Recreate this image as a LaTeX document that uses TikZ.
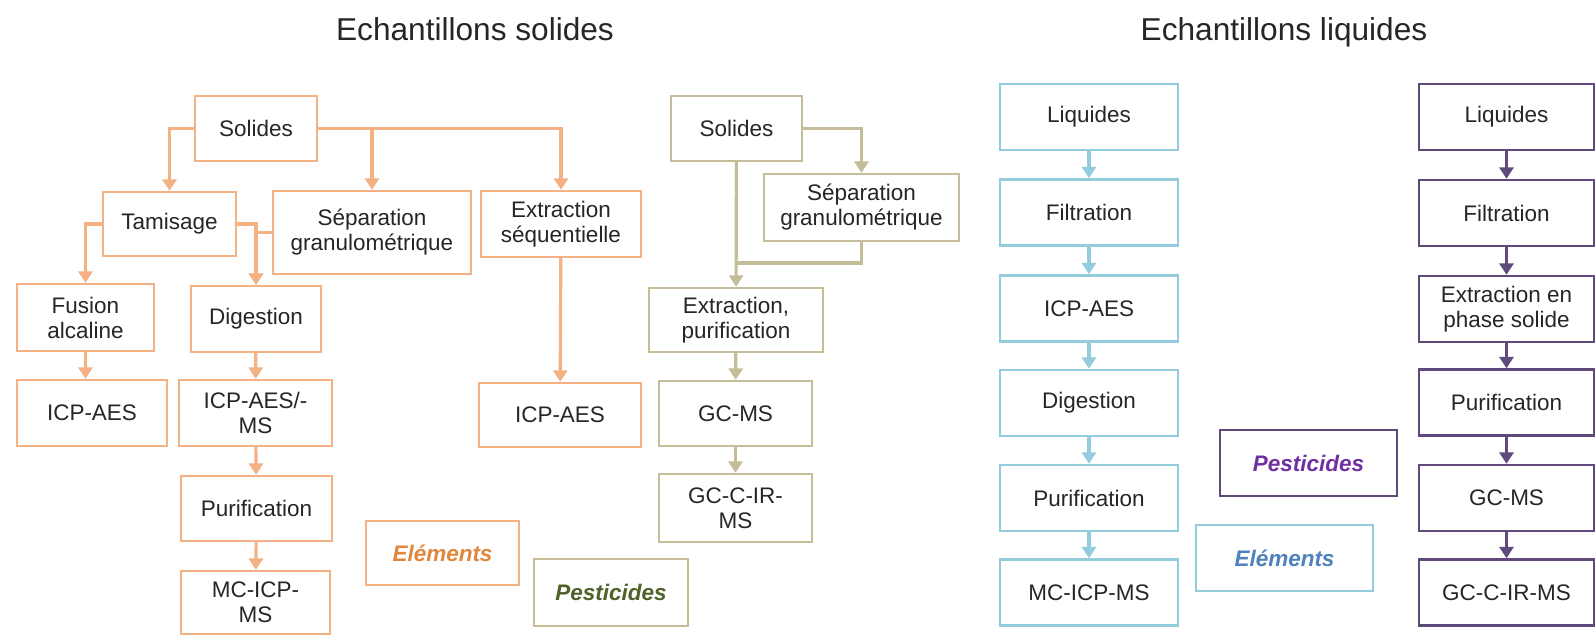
\documentclass[tikz,border=0pt]{standalone}
\usepackage{fontspec}
\setmainfont{Liberation Sans}
\usepackage{tikz}
\usetikzlibrary{arrows.meta}

\definecolor{orline}{HTML}{F4B183}
\definecolor{ortext}{HTML}{E0873C}
\definecolor{olline}{HTML}{C4BD97}
\definecolor{oltext}{HTML}{4F6228}
\definecolor{blline}{HTML}{93CDDD}
\definecolor{bltext}{HTML}{4F81BD}
\definecolor{puline}{HTML}{604A7B}
\definecolor{putext}{HTML}{7030A0}
\definecolor{boxtext}{HTML}{262626}

\begin{document}
\begin{tikzpicture}[
  x=0.02cm, y=-0.02cm,
  every node/.style={rectangle, align=center, inner sep=0pt, text=boxtext,
    font=\fontsize{12.8}{14.2}\selectfont},
  box/.style={draw, line width=1.4pt, minimum width=3.06cm, minimum height=1.32cm},
  orbox/.style={box, draw=orline},
  olbox/.style={box, draw=olline},
  blbox/.style={box, draw=blline, minimum width=3.56cm},
  pubox/.style={box, draw=puline, minimum width=3.5cm},
  tag/.style={font=\fontsize{12.8}{14.2}\selectfont\bfseries\itshape},
  arr/.style={draw, line width=1.8pt, ->, >={Triangle[width=8pt,length=6.5pt]}},
  orarr/.style={arr, orline},
  olarr/.style={arr, olline},
  blarr/.style={arr, blline},
  puarr/.style={arr, puline},
  title/.style={anchor=base, font=\fontsize{18}{20}\selectfont}
]
\fill[white] (0,0) rectangle (1596,644);
\useasboundingbox (0,0) rectangle (1596,644);

\node[title] (titS) at (475,41) {Echantillons solides};
\node[title] (titL) at (1284,41) {Echantillons liquides};

\node[orbox, minimum width=2.44cm, minimum height=1.3cm] (solA) at (256,128.5) {Solides};
\node[orbox, minimum width=2.66cm, minimum height=1.28cm] (tami) at (169.5,224) {Tamisage};
\node[orbox, minimum width=3.96cm, minimum height=1.66cm] (sepA) at (372,232.5) {Séparation\\granulométrique};
\node[orbox, minimum width=3.2cm] (extS) at (561,224) {Extraction\\séquentielle};
\node[orbox, minimum width=2.74cm, minimum height=1.34cm] (fusi) at (85.5,317.5) {Fusion\\alcaline};
\node[orbox, minimum width=2.6cm] (digA) at (256,319) {Digestion};
\node[orbox, minimum width=3.0cm] (icpA) at (92,413) {ICP-AES};
\node[orbox] (icpB) at (255.5,413) {ICP-AES/-\\MS};
\node[orbox, minimum width=3.02cm, minimum height=1.3cm] (puriA) at (256.5,508.5) {Purification};
\node[orbox, minimum width=2.98cm, minimum height=1.26cm] (mcA) at (255.5,602.5) {MC-ICP-\\MS};
\node[orbox, minimum width=3.24cm, minimum height=1.28cm] (icpC) at (560,415) {ICP-AES};
\node[orbox, minimum height=1.28cm, tag, text=ortext] (elemA) at (442.5,553) {Eléments};

\draw[orarr] (solA.west) -| (tami.north);
\draw[orarr] (solA.east) -| (sepA.north);
\draw[orarr] (solA.east) -| (extS.north);
\draw[orarr] (tami.west) -| (fusi.north);
\draw[orarr] (tami.east) -| (digA.north);
\draw[orarr] (sepA.west) -| (digA.north);
\draw[orarr] (fusi.south) -- (fusi.south |- icpA.north);
\draw[orarr] (digA) -- (icpB);
\draw[orarr] (icpB) -- (puriA);
\draw[orarr] (puriA) -- (mcA);
\draw[orarr] (extS) -- (icpC);

\node[olbox, minimum width=2.62cm, minimum height=1.3cm] (solB) at (736.5,128.5) {Solides};
\node[olbox, minimum width=3.9cm, minimum height=1.34cm] (sepB) at (861.5,207.5) {Séparation\\granulométrique};
\node[olbox, minimum width=3.48cm, minimum height=1.28cm] (extP) at (736,320) {Extraction,\\purification};
\node[olbox, minimum height=1.3cm] (gcA) at (735.5,413.5) {GC-MS};
\node[olbox, minimum height=1.36cm] (gcirA) at (735.5,508) {GC-C-IR-\\MS};
\node[olbox, minimum width=3.08cm, minimum height=1.34cm, tag, text=oltext] (pestA) at (611,592.5) {Pesticides};
\coordinate (mrgB) at (736.5,263);

\draw[olarr] (solB.east) -| (sepB.north);
\draw[olarr] (solB) -- (extP);
\draw[olarr, -] (sepB.south) |- (mrgB);
\draw[olarr] (extP) -- (gcA);
\draw[olarr] (gcA) -- (gcirA);

\node[blbox] (liqA) at (1089,117) {Liquides};
\node[blbox] (filA) at (1089,212.5) {Filtration};
\node[blbox] (icpD) at (1089,308.5) {ICP-AES};
\node[blbox] (digB) at (1089,403) {Digestion};
\node[blbox] (puriB) at (1089,498) {Purification};
\node[blbox] (mcB) at (1089,592.5) {MC-ICP-MS};
\node[blbox, minimum width=3.54cm, tag, text=bltext] (elemB) at (1284.5,558) {Eléments};

\draw[blarr] (liqA) -- (filA);
\draw[blarr] (filA) -- (icpD);
\draw[blarr] (icpD) -- (digB);
\draw[blarr] (digB) -- (puriB);
\draw[blarr] (puriB) -- (mcB);

\node[pubox] (liqB) at (1506.5,117) {Liquides};
\node[pubox] (filB) at (1506.5,213) {Filtration};
\node[pubox] (spe) at (1506.5,309) {Extraction en\\phase solide};
\node[pubox] (puriC) at (1506.5,402.5) {Purification};
\node[pubox] (gcB) at (1506.5,498) {GC-MS};
\node[pubox] (gcirB) at (1506.5,592.5) {GC-C-IR-MS};
\node[pubox, minimum width=3.54cm, tag, text=putext] (pestB) at (1308.5,463) {Pesticides};

\draw[puarr] (liqB) -- (filB);
\draw[puarr] (filB) -- (spe);
\draw[puarr] (spe) -- (puriC);
\draw[puarr] (puriC) -- (gcB);
\draw[puarr] (gcB) -- (gcirB);

\end{tikzpicture}
\end{document}
